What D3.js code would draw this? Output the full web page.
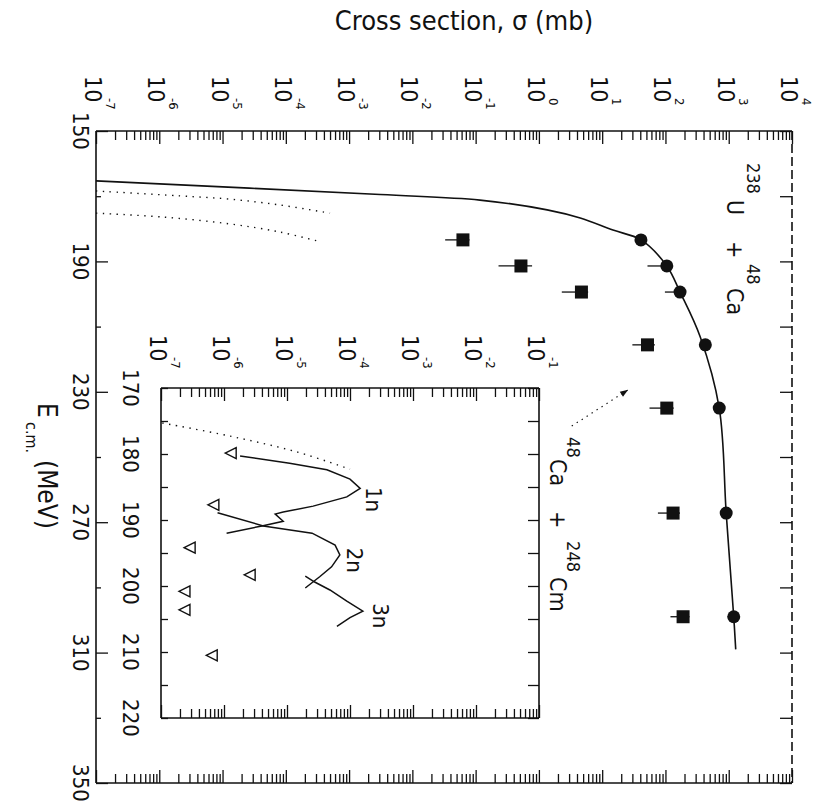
<!DOCTYPE html>
<html>
<head>
<meta charset="utf-8">
<script src="https://cdn.jsdelivr.net/npm/d3@7"></script>
<style>
  body { margin: 0; background: #fff; }
  svg { display: block; }
  text { font-family: "Liberation Sans Narrow", "DejaVu Sans Condensed", "DejaVu Sans", sans-serif; fill: #111; }
</style>
</head>
<body>
<div id="chart"></div>
<script>
// ---- data ----
// fusion curve, 238U + 48Ca  (E in MeV, sigma in mb)
const fusE   = [165.3, 169.5, 171.2, 174.2, 176.7, 180.4, 183.4, 191.4, 199.4, 213.2, 235, 267.2, 299, 309];
const fusSig = [1e-7, 3.1e-3, 0.117, 1.35, 4.5, 14.8, 41, 105, 170, 355, 708, 912, 1200, 1290];

// measured points, circles
const circE   = [183.4, 191.4, 199.4, 215.6, 235, 267.2, 299];
const circSig = [41, 105, 170, 427, 708, 912, 1200];
const circLo  = [33, 52, 98, 345, 570, 730, 960];

// measured points, squares
const sqE   = [183.4, 191.4, 199.4, 215.6, 235, 267.2, 299];
const sqSig = [0.063, 0.52, 4.7, 52, 105, 132, 190];
const sqLo  = [0.033, 0.23, 2.3, 30, 56, 76, 120];
const sqHi  = [0.08, 0.78, 6, 68, 135, 170, 240];

// dotted curves in the main panel
const dot1E   = [168.4, 169.9, 170.9, 172.7, 175.2];
const dot1Sig = [1e-7, 2.1e-6, 1.3e-5, 8.1e-5, 5.0e-4];
const dot2E   = [175.2, 176.4, 178.5, 181.0, 183.7];
const dot2Sig = [1e-7, 1.15e-6, 1.3e-5, 8.1e-5, 3.1e-4];

// inset: 48Ca + 248Cm  (sigma in mb)
const inDotE   = [175.3, 177.3, 179.7, 182.3];
const inDotSig = [1.05e-7, 1.26e-6, 1.45e-5, 1.0e-4];
const n1E   = [180.3, 181.4, 182.4, 183.8, 185.2, 186.5, 187.9, 188.8, 189.1, 190.2, 190.9, 192.0];
const n1Sig = [1.8e-6, 1.1e-5, 4.3e-5, 1.0e-4, 1.45e-4, 8.9e-5, 2.6e-5, 8.7e-6, 6.5e-6, 8.7e-6, 4.0e-6, 1.1e-6];
const n2E   = [188.9, 190.9, 192.0, 193.8, 195.3, 197.1, 198.6, 200.3];
const n2Sig = [7.9e-7, 4.2e-6, 2.5e-5, 5.8e-5, 6.9e-5, 5.1e-5, 3.3e-5, 1.95e-5];
const n3E   = [198.5, 199.4, 200.6, 202.3, 203.8, 204.8, 206.1];
const n3Sig = [1.95e-5, 2.75e-5, 4.8e-5, 8.9e-5, 1.6e-4, 1.0e-4, 6.2e-5];
const triE   = [179.85, 187.7, 194.2, 198.3, 200.8, 203.6, 210.5];
const triSig = [1.3e-6, 6.9e-7, 2.9e-7, 2.6e-6, 2.4e-7, 2.4e-7, 6.5e-7];

// tick labels
const mainExp  = [-7, -6, -5, -4, -3, -2, -1, 0, 1, 2, 3, 4];
const mainEtks = [150, 190, 230, 270, 310, 350];
const insetExp = [-7, -6, -5, -4, -3, -2, -1];
const insetEtks = [170, 180, 190, 200, 210, 220];

const W = 817, H = 810;
const svg = d3.select("#chart").append("svg").attr("width", W).attr("height", H);

// main scales: energy runs down the page, cross section runs to the right
const x = d3.scaleLog().domain([1e-7, 1e4]).range([96, 792]);
const y = d3.scaleLinear().domain([150, 350]).range([131, 783]);
// inset scales
const xi = d3.scaleLog().domain([1e-7, 1e-1]).range([161, 539]);
const yi = d3.scaleLinear().domain([170, 220]).range([388, 718]);

function minorTicks(lo, hi) {
  const t = [];
  for (let e = lo; e < hi; e++) for (let k = 2; k < 10; k++) t.push(k * Math.pow(10, e));
  return t;
}

function frameAxes(g, sx, sy, expLo, expHi, eMajor, eMinor, opt) {
  const [x0, x1] = sx.range(), [y0, y1] = sy.range();
  const dec = d3.range(expLo, expHi + 1).map(e => Math.pow(10, e));
  const minr = minorTicks(expLo, expHi);
  const put = (sel, ax) => { sel.call(ax); sel.select(".domain").remove();
    sel.selectAll("line").attr("stroke", "#111").attr("stroke-width", 1.3); };
  put(g.append("g").attr("transform", `translate(0,${y0})`), d3.axisTop(sx).tickValues(dec).tickSize(-opt.maj).tickFormat(""));
  put(g.append("g").attr("transform", `translate(0,${y0})`), d3.axisTop(sx).tickValues(minr).tickSize(-opt.min).tickFormat(""));
  put(g.append("g").attr("transform", `translate(0,${y1})`), d3.axisBottom(sx).tickValues(dec).tickSize(-opt.maj).tickFormat(""));
  put(g.append("g").attr("transform", `translate(0,${y1})`), d3.axisBottom(sx).tickValues(minr).tickSize(-opt.min).tickFormat(""));
  put(g.append("g").attr("transform", `translate(${x0},0)`), d3.axisLeft(sy).tickValues(eMajor).tickSize(-opt.lMaj).tickFormat(""));
  put(g.append("g").attr("transform", `translate(${x0},0)`), d3.axisLeft(sy).tickValues(eMinor).tickSize(-opt.lMin).tickFormat(""));
  put(g.append("g").attr("transform", `translate(${x1},0)`), d3.axisRight(sy).tickValues(eMajor.concat(eMinor)).tickSize(-opt.r).tickFormat(""));
  // frame
  const fr = g.append("g").attr("stroke", "#111").attr("stroke-width", 1.6).attr("fill", "none");
  fr.append("line").attr("x1", x0).attr("x2", x1).attr("y1", y0).attr("y2", y0);
  fr.append("line").attr("x1", x0).attr("x2", x1).attr("y1", y1).attr("y2", y1);
  fr.append("line").attr("x1", x0).attr("x2", x0).attr("y1", y0).attr("y2", y1);
  fr.append("line").attr("x1", x1).attr("x2", x1).attr("y1", y0).attr("y2", y1)
    .attr("stroke-dasharray", opt.rDash || null);
}

function logLabels(g, sx, exps, yTop) {
  exps.forEach(e => {
    const gl = g.append("g").attr("transform", `translate(${sx(Math.pow(10, e))},${yTop}) rotate(90)`);
    gl.append("text").attr("x", 0).attr("y", 11).style("font-size", "23px").text("10");
    gl.append("text").attr("x", 22).attr("y", -10).style("font-size", "13px").text(e);
  });
}

function eLabels(g, sy, vals, xBase) {
  vals.forEach(v => {
    g.append("text").attr("transform", `translate(${xBase},${sy(v)}) rotate(90)`)
      .attr("text-anchor", "middle").style("font-size", "22px").text(v);
  });
}

// ---- main panel ----
svg.append("defs").append("clipPath").attr("id", "clipMain")
  .append("rect").attr("x", 96).attr("y", 131).attr("width", 696).attr("height", 652);
svg.select("defs").append("clipPath").attr("id", "clipIn")
  .append("rect").attr("x", 161).attr("y", 388).attr("width", 378).attr("height", 330);

const main = svg.append("g");
const plot = main.append("g").attr("clip-path", "url(#clipMain)");

const line = (sx, sy) => d3.line().x(d => sx(d[1])).y(d => sy(d[0]));
const zipE = (a, b) => a.map((v, i) => [v, b[i]]);

plot.append("path").attr("d", line(x, y).curve(d3.curveCatmullRom)(zipE(fusE, fusSig)))
  .attr("fill", "none").attr("stroke", "#111").attr("stroke-width", 1.6);
[[dot1E, dot1Sig], [dot2E, dot2Sig]].forEach(([e, s]) => {
  plot.append("path").attr("d", line(x, y).curve(d3.curveCatmullRom)(zipE(e, s)))
    .attr("fill", "none").attr("stroke", "#111").attr("stroke-width", 1.4)
    .attr("stroke-dasharray", "1.4 5.5");
});

// error bars
plot.selectAll(".sqErr").data(sqE).join("line").attr("class", "sqErr")
  .attr("x1", (d, i) => x(sqLo[i])).attr("x2", (d, i) => x(sqHi[i]))
  .attr("y1", d => y(d)).attr("y2", d => y(d)).attr("stroke", "#111").attr("stroke-width", 1.3);
plot.selectAll(".cErr").data(circE).join("line").attr("class", "cErr")
  .attr("x1", (d, i) => x(circLo[i])).attr("x2", (d, i) => x(circSig[i]))
  .attr("y1", d => y(d)).attr("y2", d => y(d)).attr("stroke", "#111").attr("stroke-width", 1.3);

plot.selectAll(".sq").data(sqE).join("rect").attr("class", "sq")
  .attr("x", (d, i) => x(sqSig[i]) - 6.5).attr("y", d => y(d) - 6.5)
  .attr("width", 13).attr("height", 13).attr("fill", "#111");
plot.selectAll(".circ").data(circE).join("circle").attr("class", "circ")
  .attr("cx", (d, i) => x(circSig[i])).attr("cy", d => y(d)).attr("r", 6.5).attr("fill", "#111");

frameAxes(main, x, y, -7, 4, mainEtks, [170, 210, 250, 290, 330],
  { maj: 13, min: 9, lMaj: 12, lMin: 5, r: 12, rDash: "9 4" });
logLabels(main, x, mainExp, 76);
eLabels(main, y, mainEtks, 73);

// reaction label 238U + 48Ca
const lab1 = main.append("g").attr("transform", `translate(${x(940)},${y(159.8)}) rotate(90)`);
lab1.append("text").attr("x", 0).attr("y", -20).style("font-size", "18px").text("238");
lab1.append("text").attr("x", 37).attr("y", 0).style("font-size", "23px").text("U");
lab1.append("text").attr("x", 78).attr("y", 0).style("font-size", "23px").text("+");
lab1.append("text").attr("x", 101).attr("y", -20).style("font-size", "18px").text("48");
lab1.append("text").attr("x", 125).attr("y", 0).style("font-size", "23px").text("Ca");

// dotted arrow from inset to the main curve
const arrFrom = [240.5, 3.3], arrTo = [229.4, 25.7];
main.append("line").attr("x1", x(arrFrom[1])).attr("y1", y(arrFrom[0]))
  .attr("x2", x(arrTo[1])).attr("y2", y(arrTo[0]))
  .attr("stroke", "#111").attr("stroke-width", 1.2).attr("stroke-dasharray", "1.4 4.5");
{
  const ax = x(arrTo[1]), ay = y(arrTo[0]);
  const ang = Math.atan2(ay - y(arrFrom[0]), ax - x(arrFrom[1])) * 180 / Math.PI;
  main.append("path").attr("d", "M0,0 L-8,-3 L-8,3 Z").attr("fill", "#111")
    .attr("transform", `translate(${ax},${ay}) rotate(${ang})`);
}

// axis titles
svg.append("text").attr("x", 464).attr("y", 30).attr("text-anchor", "middle")
  .style("font-size", "27px").text("Cross section, \u03c3 (mb)");
const et = svg.append("g").attr("transform", "translate(38,403) rotate(90)");
et.append("text").attr("x", 0).attr("y", 0).style("font-size", "26px").text("E");
et.append("text").attr("x", 19).attr("y", 12).style("font-size", "16px").text("c.m.");
et.append("text").attr("x", 57).attr("y", 0).style("font-size", "26px").text("(MeV)");

// ---- inset ----
const inset = svg.append("g");
inset.append("rect").attr("x", 161).attr("y", 388).attr("width", 378).attr("height", 330).attr("fill", "#fff");
const ip = inset.append("g").attr("clip-path", "url(#clipIn)");
ip.append("path").attr("d", line(xi, yi).curve(d3.curveCatmullRom)(zipE(inDotE, inDotSig)))
  .attr("fill", "none").attr("stroke", "#111").attr("stroke-width", 1.4).attr("stroke-dasharray", "1.4 5.5");
[[n1E, n1Sig], [n2E, n2Sig], [n3E, n3Sig]].forEach(([e, s]) => {
  ip.append("path").attr("d", line(xi, yi)(zipE(e, s)))
    .attr("fill", "none").attr("stroke", "#111").attr("stroke-width", 1.5);
});
ip.selectAll(".tri").data(triE).join("path").attr("class", "tri")
  .attr("d", "M-6,0 L5,-5.5 L5,5.5 Z")
  .attr("transform", (d, i) => `translate(${xi(triSig[i])},${yi(d)})`)
  .attr("fill", "none").attr("stroke", "#111").attr("stroke-width", 1.4);

// channel labels
const chan = [["1n", 185.0, 1.8e-4], ["2n", 194.2, 8.9e-5], ["3n", 202.6, 2.3e-4]];
chan.forEach(([t, e, s]) => {
  ip.append("text").attr("transform", `translate(${xi(s)},${yi(e)}) rotate(90)`)
    .style("font-size", "22px").text(t);
});

frameAxes(inset, xi, yi, -7, -1, [170, 180, 190, 200, 210, 220], [175, 185, 195, 205, 215],
  { maj: 13, min: 9, lMaj: 7, lMin: 7, r: 11 });
logLabels(inset, xi, insetExp, 335);
eLabels(inset, yi, insetEtks, 123);

// reaction label 48Ca + 248Cm
const lab2 = svg.append("g").attr("transform", `translate(${x(1.5)},${y(243.9)}) rotate(90)`);
lab2.append("text").attr("x", 0).attr("y", -17).style("font-size", "18px").text("48");
lab2.append("text").attr("x", 22).attr("y", 0).style("font-size", "23px").text("Ca");
lab2.append("text").attr("x", 74).attr("y", 0).style("font-size", "23px").text("+");
lab2.append("text").attr("x", 104).attr("y", -17).style("font-size", "18px").text("248");
lab2.append("text").attr("x", 140).attr("y", 0).style("font-size", "23px").text("Cm");
</script>
</body>
</html>
